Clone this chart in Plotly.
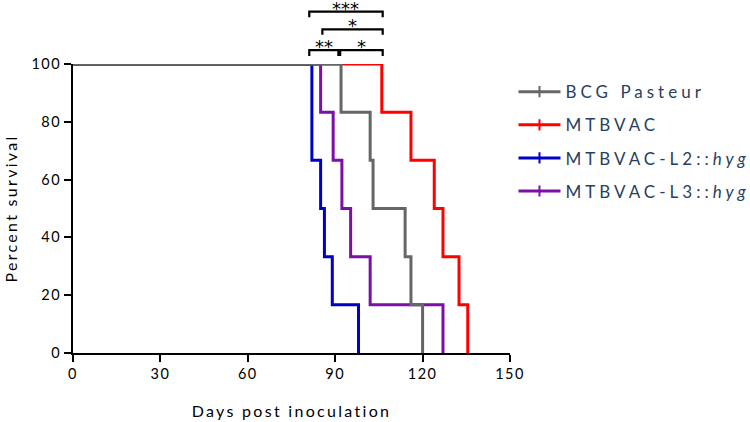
import plotly.graph_objects as go

# Survival data (Kaplan-Meier steps), days vs percent survival
names = ["BCG Pasteur", "MTBVAC", "MTBVAC-L2::<i>hyg</i>", "MTBVAC-L3::<i>hyg</i>"]
colors = ["#666666", "#ff0000", "#0000cc", "#7b0fa8"]
bcg_days = [0, 92, 102, 103, 114, 116, 120]
bcg_surv = [100, 83.33, 66.67, 50, 33.33, 16.67, 0]
mtb_days = [0, 106, 116, 124, 127, 132.5, 135.5]
mtb_surv = [100, 83.33, 66.67, 50, 33.33, 16.67, 0]
l2_days = [0, 82, 85, 86.3, 89, 98]
l2_surv = [100, 66.67, 50, 33.33, 16.67, 0]
l3_days = [0, 85, 89.3, 92.3, 95.3, 102, 127]
l3_surv = [100, 83.33, 66.67, 50, 33.33, 16.67, 0]

x_ticks = [0, 30, 60, 90, 120, 150]
y_ticks = [0, 20, 40, 60, 80, 100]

# Significance brackets (days)
br_x0 = [81.1, 85.6, 81.1, 91.7]
br_x1 = [106.3, 106.3, 91.1, 106.3]
br_labels = ["***", "*", "**", "*"]
br_top = [1.181, 1.120, 1.048, 1.048]
br_leg = [1.162, 1.101, 1.028, 1.028]

series = [
    (bcg_days, bcg_surv),
    (mtb_days, mtb_surv),
    (l2_days, l2_surv),
    (l3_days, l3_surv),
]

fig = go.Figure()
# draw order: red, blue, purple, gray on top
for i in [1, 2, 3, 0]:
    d, s = series[i]
    fig.add_trace(go.Scatter(x=d, y=s, mode="lines", line=dict(color=colors[i], width=3, shape="hv"),
                             showlegend=False, cliponaxis=False, hoverinfo="skip"))
# legend entries
for i in range(4):
    fig.add_trace(go.Scatter(x=[None], y=[None], mode="lines+markers", name=names[i],
                             line=dict(color=colors[i], width=3),
                             marker=dict(symbol="line-ns", size=8, line=dict(color=colors[i], width=2)),
                             legendgroup=str(i)))

shapes = []
annotations = []
for x0, x1, lab, yt, yl in zip(br_x0, br_x1, br_labels, br_top, br_leg):
    shapes.append(dict(type="path", xref="x", yref="paper",
                       path=f"M {x0},{yl} L {x0},{yt} L {x1},{yt} L {x1},{yl}",
                       line=dict(color="black", width=2.2)))
    annotations.append(dict(x=(x0 + x1) / 2, y=yt, xref="x", yref="paper", text=lab, showarrow=False,
                            yanchor="bottom", yshift=-9, font=dict(size=18, color="black", family="DejaVu Sans")))

axis_common = dict(showgrid=False, zeroline=False, showline=True, linecolor="black", linewidth=1.8,
                   ticks="outside", ticklen=7, tickwidth=1.8, tickcolor="black",
                   tickfont=dict(family="Lato", size=14.5, color="black"))

fig.update_layout(
    width=750, height=422,
    margin=dict(l=73, r=240, t=64, b=69, autoexpand=False),
    paper_bgcolor="white", plot_bgcolor="white",
    xaxis=dict(range=[0, 150], tickvals=x_ticks, ticktext=[str(v) for v in x_ticks],
               title=dict(text="Days post inoculation", font=dict(family="Lato", size=16, color="black"), standoff=25),
               **axis_common),
    yaxis=dict(range=[0, 100], tickvals=y_ticks, ticktext=[str(v) for v in y_ticks],
               title=dict(text="Percent survival", font=dict(family="Lato", size=16, color="black"), standoff=14),
               **axis_common),
    legend=dict(x=1.008, y=0.965, xanchor="left", yanchor="top", itemwidth=42, tracegroupgap=8,
                font=dict(family="Lato", size=17), bgcolor="rgba(0,0,0,0)"),
    shapes=shapes,
    annotations=annotations,
)

post = """
document.body.style.margin='0';
var s=document.createElement('style');
s.innerHTML='.legendtext{letter-spacing:4px} .xtitle,.ytitle{letter-spacing:2.3px} .xtick text,.ytick text{letter-spacing:1.5px}';
document.head.appendChild(s);
var gd=document.getElementsByClassName('plotly-graph-div')[0];
Plotly.relayout(gd,{'legend.font.size':17.01});
"""
fig.write_html("out.html", post_script=post, config={"displayModeBar": False})
